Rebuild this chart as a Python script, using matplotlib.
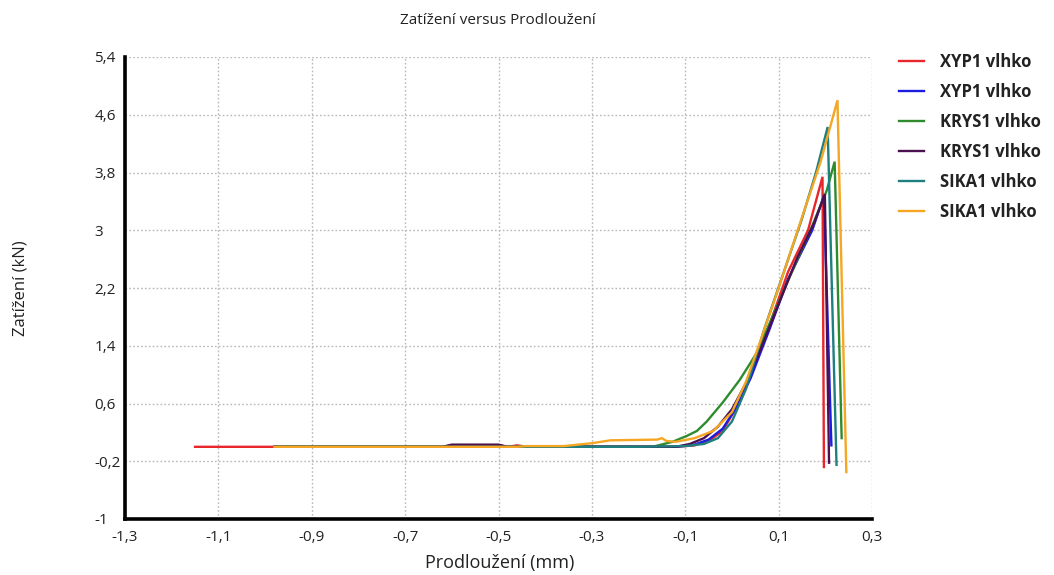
import matplotlib
matplotlib.use("Agg")
import matplotlib.pyplot as plt

plt.rcParams['font.family'] = ['Open Sans', 'DejaVu Sans']

# ---------------- data ----------------
labels = ["XYP1 vlhko", "XYP1 vlhko", "KRYS1 vlhko", "KRYS1 vlhko", "SIKA1 vlhko", "SIKA1 vlhko"]
colors = ["#e8262c", "#1c1ce0", "#2e8b2e", "#4a1050", "#1f7f7f", "#f5a623"]

red_x = [-1.15, -0.62, -0.60, -0.50, -0.48, -0.46, -0.44, -0.12, -0.08, -0.05, -0.02, 0.01, 0.04, 0.08, 0.12, 0.163, 0.194, 0.197]
red_y = [0.0, 0.0, 0.02, 0.02, 0.0, 0.02, 0.0, 0.0, 0.02, 0.08, 0.22, 0.55, 0.98, 1.68, 2.42, 3.00, 3.74, -0.28]

blue_x = [-0.98, -0.12, -0.08, -0.05, -0.02, 0.01, 0.04, 0.08, 0.12, 0.172, 0.197, 0.213]
blue_y = [0.0, 0.0, 0.03, 0.10, 0.25, 0.55, 0.95, 1.62, 2.32, 3.00, 3.48, 0.02]

green_x = [-0.98, -0.17, -0.127, -0.097, -0.075, -0.054, -0.019, 0.017, 0.053, 0.08, 0.12, 0.168, 0.203, 0.220, 0.235]
green_y = [0.0, 0.0, 0.07, 0.15, 0.22, 0.35, 0.62, 0.93, 1.30, 1.70, 2.30, 3.00, 3.55, 3.95, 0.12]

purple_x = [-0.98, -0.62, -0.60, -0.50, -0.48, -0.12, -0.09, -0.06, -0.03, 0.00, 0.03, 0.06, 0.10, 0.14, 0.176, 0.199, 0.208]
purple_y = [0.0, 0.0, 0.03, 0.03, 0.0, 0.0, 0.04, 0.12, 0.28, 0.52, 0.88, 1.33, 1.98, 2.62, 3.10, 3.50, -0.22]

teal_x = [-0.98, -0.20, -0.10, -0.06, -0.03, 0.00, 0.03, 0.07, 0.11, 0.149, 0.18, 0.205, 0.224]
teal_y = [0.0, 0.0, 0.01, 0.04, 0.12, 0.35, 0.80, 1.645, 2.40, 3.14, 3.80, 4.43, -0.25]

orange_x = [-0.98, -0.46, -0.44, -0.36, -0.30, -0.26, -0.16, -0.15, -0.14, -0.12, -0.08, -0.04, 0.00, 0.03, 0.06, 0.10, 0.148, 0.19, 0.226, 0.245]
orange_y = [0.0, 0.0, 0.01, 0.01, 0.05, 0.09, 0.10, 0.12, 0.08, 0.07, 0.12, 0.22, 0.48, 0.90, 1.45, 2.20, 3.14, 3.95, 4.80, -0.35]

series_x = [red_x, blue_x, green_x, purple_x, teal_x, orange_x]
series_y = [red_y, blue_y, green_y, purple_y, teal_y, orange_y]

x_ticks = [-1.3, -1.1, -0.9, -0.7, -0.5, -0.3, -0.1, 0.1, 0.3]
x_ticklabels = ["-1,3", "-1,1", "-0,9", "-0,7", "-0,5", "-0,3", "-0,1", "0,1", "0,3"]
y_ticks = [-1.0, -0.2, 0.6, 1.4, 2.2, 3.0, 3.8, 4.6, 5.4]
y_ticklabels = ["-1", "-0,2", "0,6", "1,4", "2,2", "3", "3,8", "4,6", "5,4"]

title = "Zatížení versus Prodloužení"
xlabel = "Prodloužení (mm)"
ylabel = "Zatížení (kN)"

# ---------------- figure ----------------
W, H = 1054, 575
fig = plt.figure(figsize=(W / 100, H / 100), dpi=100)
ax = fig.add_axes([125 / W, 1 - 519 / H, (872 - 125) / W, (519 - 57) / H])

lines = []
for xs, ys, c, lab in zip(series_x, series_y, colors, labels):
    ln, = ax.plot(xs, ys, color=c, lw=1.7, label=lab, solid_joinstyle='miter')
    lines.append(ln)

ax.set_xlim(-1.3, 0.3)
ax.set_ylim(-1.0, 5.4)
ax.set_xticks(x_ticks)
ax.set_xticklabels(x_ticklabels)
ax.set_yticks(y_ticks)
ax.set_yticklabels(y_ticklabels)

ax.grid(True, color="#b8b8b8", lw=1.0, linestyle=(0, (1.2, 1.6)))
ax.set_axisbelow(True)

for s in ["top", "right"]:
    ax.spines[s].set_visible(False)
for s in ["left", "bottom"]:
    ax.spines[s].set_linewidth(2.6)
    ax.spines[s].set_color("black")

ax.tick_params(axis="both", length=0, labelsize=11, colors="#222222")
ax.tick_params(axis="x", pad=8)
ax.tick_params(axis="y", pad=22)
for t in ax.get_yticklabels():
    t.set_horizontalalignment("left")

fig.text(498 / W, 1 - 20 / H, title, ha="center", va="center", fontsize=11, color="#222222")
fig.text(500 / W, 1 - 563 / H, xlabel, ha="center", va="center", fontsize=13, color="#222222")
fig.text(21 / W, 1 - 288 / H, ylabel, ha="center", va="center", rotation=90, fontsize=12, color="#222222")

leg = fig.legend(handles=lines, loc="upper left", bbox_to_anchor=(892 / W, 1 - 46 / H),
                 frameon=False, prop={"weight": "bold", "size": 12},
                 handlelength=1.5, handletextpad=1.0, labelspacing=0.72, borderaxespad=0)
for t in leg.get_texts():
    t.set_color("#222222")

fig.savefig("out.png", dpi=100)
